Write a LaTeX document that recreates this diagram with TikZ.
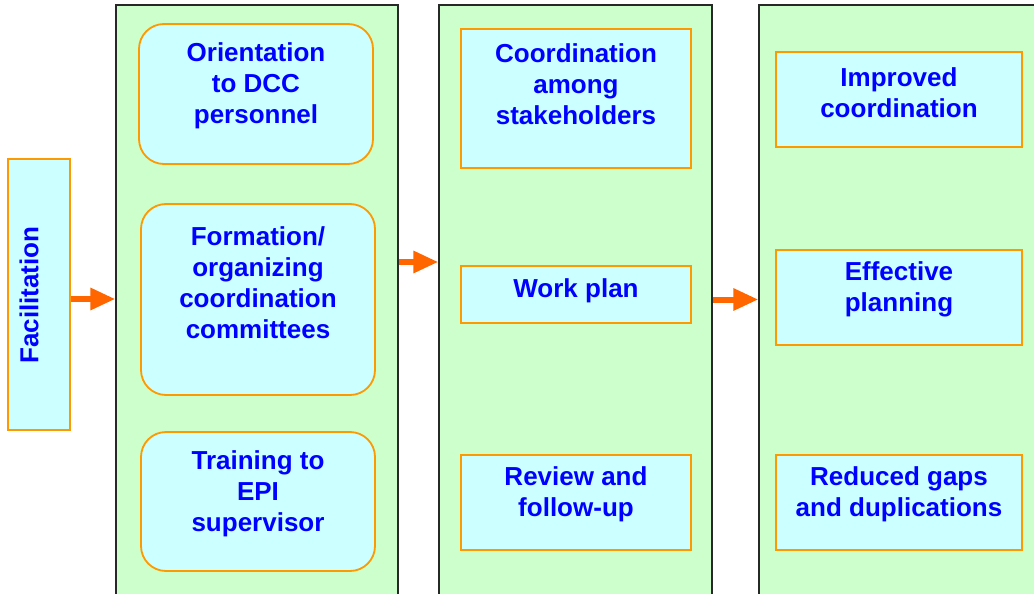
\documentclass[tikz,border=0pt]{standalone}
\usepackage{fontspec}
\setmainfont{Liberation Sans}
\usetikzlibrary{arrows.meta}
\definecolor{gfill}{RGB}{204,255,204}
\definecolor{cfill}{RGB}{204,255,255}
\definecolor{obord}{RGB}{255,153,0}
\definecolor{arrc}{RGB}{255,102,0}
\definecolor{tblue}{RGB}{0,0,255}
\definecolor{colb}{RGB}{40,40,40}
\tikzset{
  col/.style={draw=colb,line width=1.3pt,fill=gfill,inner sep=0pt},
  rbox/.style={draw=obord,line width=1.8pt,fill=cfill,rounded corners=25pt,inner sep=0pt},
  sbox/.style={draw=obord,line width=1.8pt,fill=cfill,inner sep=0pt},
  txt/.style={text=tblue,font=\fontsize{26}{31}\selectfont\bfseries,align=center,inner sep=0pt},
  arr/.style={draw=arrc,line width=6pt,-{Triangle[length=25pt,width=21pt]}},
}
\begin{document}
\begin{tikzpicture}[x=1pt,y=-1pt]
\useasboundingbox (0,0) rectangle (1034,594);
\clip (0,0) rectangle (1034,594);
% columns
\node[col,minimum width=282pt,minimum height=605pt] (c1) at (257,307.5) {};
\node[col,minimum width=273pt,minimum height=605pt] (c2) at (575.5,307.5) {};
\node[col,minimum width=281pt,minimum height=605pt] (c3) at (899.5,307.5) {};
% facilitation
\node[sbox,minimum width=62pt,minimum height=271pt] (fac) at (39,294.5) {};
\node[txt,rotate=90] (tfac) at (29,295) {Facilitation};
% column 1
\node[rbox,minimum width=234pt,minimum height=140pt] (b1) at (256,94) {};
\node[txt] (t1) at (256,86) {Orientation\\to DCC\\personnel};
\node[rbox,minimum width=234pt,minimum height=191pt] (b2) at (258,299.5) {};
\node[txt] (t2) at (258,282.5) {Formation/\\organizing\\coordination\\committees};
\node[rbox,minimum width=234pt,minimum height=139pt] (b3) at (258,501.5) {};
\node[txt] (t3) at (258,494) {Training to\\EPI\\supervisor};
% column 2
\node[sbox,minimum width=230pt,minimum height=139pt] (d1) at (576,98.5) {};
\node[txt] (u1) at (576,84) {Coordination\\among\\stakeholders};
\node[sbox,minimum width=230pt,minimum height=57pt] (d2) at (576,294.5) {};
\node[txt] (u2) at (576,291) {Work plan};
\node[sbox,minimum width=230pt,minimum height=95pt] (d3) at (576,502.5) {};
\node[txt] (u3) at (576,494.5) {Review and\\follow-up};
% column 3
\node[sbox,minimum width=246pt,minimum height=95pt] (e1) at (899,99.5) {};
\node[txt] (v1) at (899,92.5) {Improved\\coordination};
\node[sbox,minimum width=246pt,minimum height=95pt] (e2) at (899,297.5) {};
\node[txt] (v2) at (899,289.5) {Effective\\planning};
\node[sbox,minimum width=246pt,minimum height=95pt] (e3) at (899,502.5) {};
\node[txt] (v3) at (899,494.5) {Reduced gaps\\and duplications};
% arrows
\draw[arr] (fac.east |- 0,299) -- (c1.west |- 0,299);
\draw[arr] (c1.east |- 0,262) -- (c2.west |- 0,262);
\draw[arr] (c2.east |- 0,299.5) -- (c3.west |- 0,299.5);
\end{tikzpicture}
\end{document}
